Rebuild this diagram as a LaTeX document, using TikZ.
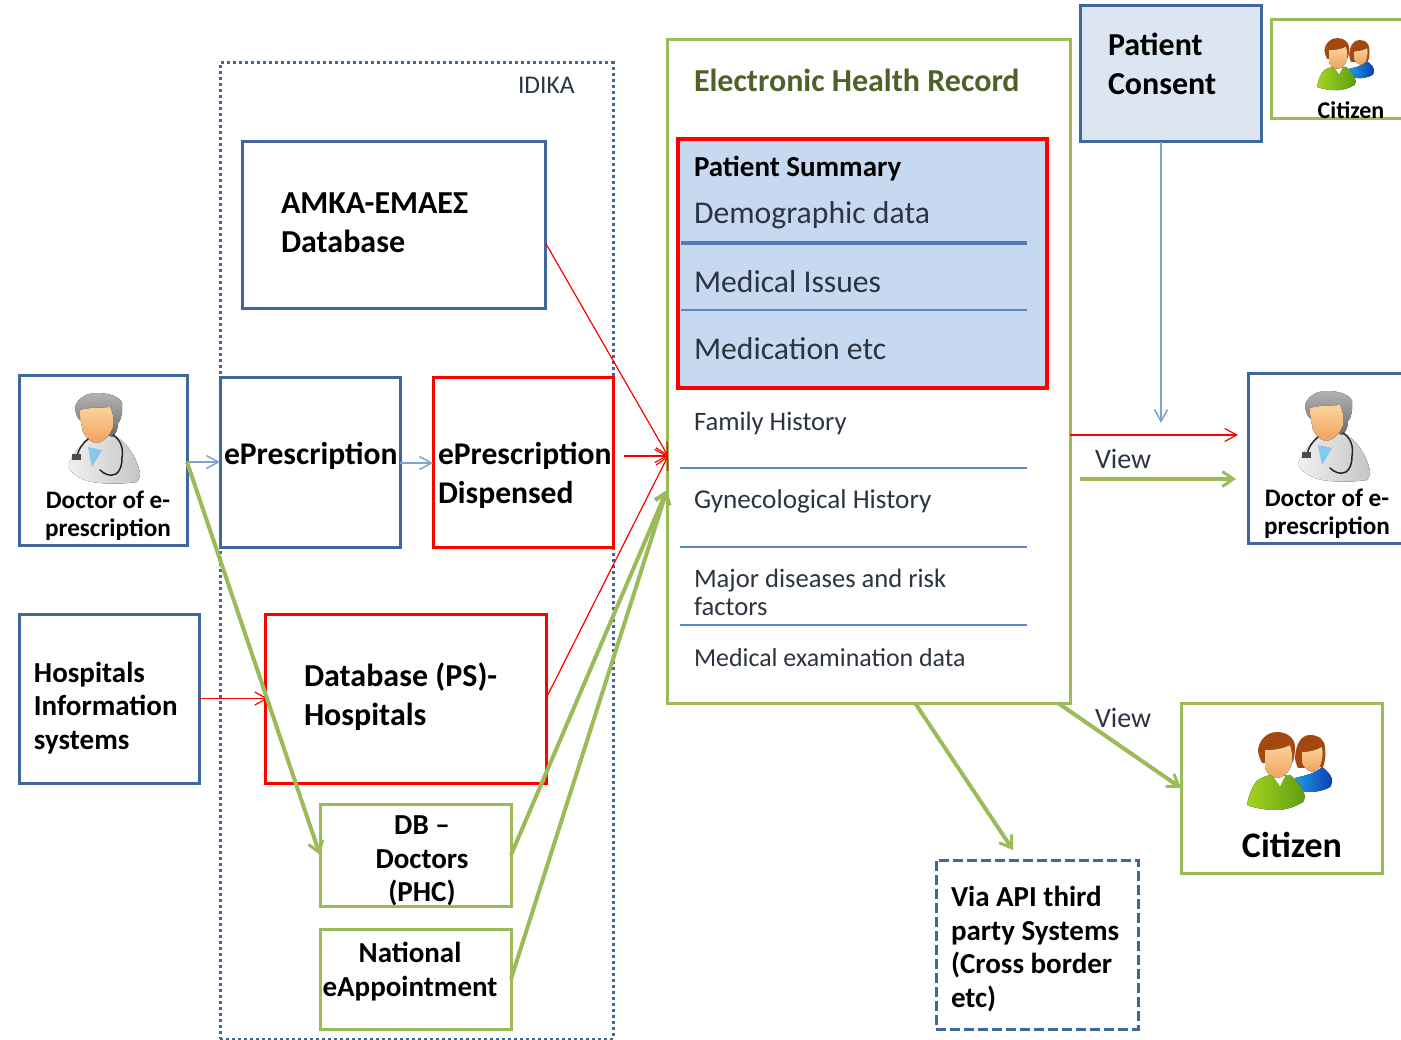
\documentclass[tikz,border=0pt]{standalone}
\usepackage{fontspec}
\setmainfont{Carlito}
\usetikzlibrary{arrows.meta,calc}
\definecolor{bluedk}{HTML}{41689A}
\definecolor{bluemd}{HTML}{5B8BC6}
\definecolor{bluelt}{HTML}{7FA3D1}
\definecolor{grn}{HTML}{9BBB59}
\definecolor{redc}{HTML}{FF0000}
\definecolor{olive}{HTML}{4F6128}
\definecolor{bodyc}{HTML}{2B3440}
\definecolor{fillc}{HTML}{DCE6F2}
\definecolor{fillb}{HTML}{C6D9F1}
\definecolor{hairc}{HTML}{A5480F}
\definecolor{facel}{HTML}{FBD29C}
\definecolor{faced}{HTML}{EFA45C}
\definecolor{grnl}{HTML}{A4D420}
\definecolor{grnd}{HTML}{5F9E12}
\definecolor{blul}{HTML}{1F9BE8}
\definecolor{blud}{HTML}{0A3CB0}
\tikzset{
 box/.style={rectangle,inner sep=0pt,outer sep=0pt,line width=3pt},
 bluebox/.style={box,draw=bluedk},
 redbox/.style={box,draw=redc},
 grnbox/.style={box,draw=grn},
 lbl/.style={inner sep=0pt,outer sep=0pt,anchor=west,align=left},
 ctr/.style={inner sep=0pt,outer sep=0pt,align=center},
 blab/.style={font=\fontsize{32}{39}\selectfont\bfseries},
 plab/.style={font=\fontsize{31.6}{39}\selectfont\bfseries},
 mlab/.style={font=\fontsize{29}{33.5}\selectfont\bfseries},
 dlab/.style={font=\fontsize{25.2}{28}\selectfont\bfseries},
 big/.style={font=\fontsize{31.7}{39}\selectfont,text=bodyc},
 small/.style={font=\fontsize{26.6}{28}\selectfont,text=bodyc},
 viewlab/.style={font=\fontsize{28}{30}\selectfont,text=bodyc},
 rowline/.style={draw=bluemd,line width=1.5pt},
 thinred/.style={draw=redc,line width=1.2pt,-{Straight Barb[length=12pt,width=13pt,line width=1.2pt]}},
 thinblue/.style={draw=bluelt,line width=1.5pt,-{Straight Barb[length=12pt,width=13pt,line width=1.5pt]}},
 grnarrow/.style={draw=grn,line width=4pt,-{Straight Barb[length=11pt,width=15pt,line width=3pt]}},
 doctoricon/.pic={
  \fill[left color=gray!12,right color=gray!45] (0,75) .. controls (1,68) and (10,54) .. (20,48) -- (45,43) .. controls (56,48) and (68,62) .. (72,81) .. controls (72,86) and (70,89) .. (69,90) .. controls (55,92) and (42,92) .. (32,91) .. controls (20,90) and (8,87) .. (0,75) -- cycle;
  \fill[blul!55] (20,55) -- (34,58) -- (24,75) -- cycle;
  \fill[top color=gray!60,bottom color=gray!85!black] (7,15) .. controls (10,6) and (18,1) .. (29,1) .. controls (42,1) and (52,5) .. (54,11) .. controls (55,22) and (52,30) .. (50,31) .. controls (50,38) and (47,43) .. (44,45) -- (14,30) -- (10,26) .. controls (8,22) and (7,18) .. (7,15) -- cycle;
  \fill[top color=facel,bottom color=faced] (12,18) .. controls (22,15) and (34,16) .. (42,15) .. controls (46,24) and (46,30) .. (45,35) .. controls (42,44) and (34,51) .. (27,51) .. controls (20,48) and (14,42) .. (14,35) .. controls (12,28) and (12,22) .. (12,18) -- cycle;
  \draw[gray!30!black,line width=1.5pt,line cap=round] (20,47) .. controls (14,52) and (10,58) .. (9,65);
  \draw[gray!30!black,line width=1.5pt,line cap=round] (45,43) .. controls (52,47) and (56,56) .. (54,66) .. controls (54,74) and (52,79) .. (48,82) .. controls (42,85) and (36,82) .. (32,78);
  \fill[gray!60!black] (4,62) rectangle (13,68);
 },
 citizenicon/.pic={
  \fill[left color=blul,right color=blud] (48,46) .. controls (56,44) and (68,42) .. (75,35) .. controls (82,40) and (86,46) .. (85,50) .. controls (84,53) and (84,54) .. (83,55) .. controls (76,59) and (68,60) .. (63,60) .. controls (56,60) and (52,58) .. (48,56) -- cycle;
  \fill[hairc] (48,25) .. controls (49,12) and (54,3) .. (63,3) .. controls (72,3) and (78,8) .. (78,16) .. controls (79,24) and (78,30) .. (76,35) -- (51,36) .. controls (49,32) and (48,28) .. (48,25) -- cycle;
  \fill[top color=facel,bottom color=faced] (55,20) .. controls (62,20) and (70,18) .. (75,15) .. controls (76,20) and (76,24) .. (75,28) .. controls (74,34) and (70,40) .. (65,40) .. controls (60,38) and (55,34) .. (55,30) -- cycle;
  \fill[left color=grnl,right color=grnd] (0,73) .. controls (2,62) and (6,52) .. (11,48) .. controls (16,45) and (20,44) .. (23,43) -- (43,43) .. controls (50,48) and (56,56) .. (58,65) -- (56,70) .. controls (48,75) and (38,78) .. (30,78) .. controls (18,78) and (8,76) .. (0,73) -- cycle;
  \fill[white] (26,44) -- (38,44) -- (33,54) -- cycle;
  \fill[hairc] (11,18) .. controls (12,8) and (20,0) .. (30,0) .. controls (40,0) and (48,6) .. (48,15) .. controls (48,22) and (47,28) .. (45,31) -- (15,31) .. controls (13,27) and (11,22) .. (11,18) -- cycle;
  \fill[top color=facel,bottom color=faced] (18,18) .. controls (26,18) and (36,17) .. (43,13) .. controls (45,18) and (46,26) .. (45,31) .. controls (43,40) and (36,46) .. (30,46) .. controls (24,45) and (18,40) .. (18,35) -- cycle;
 }
}
\begin{document}
\begin{tikzpicture}[x=1pt,y=-1pt]
\useasboundingbox (0,0) rectangle (1401,1040);
\clip (0,0) rectangle (1401,1040);
% containers
\node[box,draw=bluedk,dash pattern=on 3pt off 3pt,minimum width=393pt,minimum height=976pt] (idika) at (416.5,551) {};
\node[grnbox,minimum width=403pt,minimum height=663pt] (ehr) at (868.5,371.5) {};
\node[box,fill=fillb,draw=redc,line width=3.5pt,minimum width=369pt,minimum height=249pt] (ps) at (862.5,263.5) {};
% boxes
\node[bluebox,minimum width=303pt,minimum height=167pt] (amka) at (394,225.5) {};
\node[bluebox,minimum width=168pt,minimum height=169pt] (doc) at (103,460.5) {};
\node[bluebox,minimum width=180pt,minimum height=169pt] (epre) at (310,462.5) {};
\node[redbox,minimum width=180pt,minimum height=169pt] (disp) at (523,462.5) {};
\node[bluebox,minimum width=180pt,minimum height=169pt] (hosp) at (109,698.5) {};
\node[redbox,minimum width=281pt,minimum height=169pt] (dbps) at (405.5,698.5) {};
\node[grnbox,minimum width=191pt,minimum height=102pt] (dbdoc) at (415.5,855) {};
\node[grnbox,minimum width=191pt,minimum height=100pt] (natl) at (415.5,979) {};
\node[bluebox,fill=fillc,minimum width=181pt,minimum height=136pt] (cons) at (1170.5,74) {};
\node[grnbox,minimum width=134pt,minimum height=99pt] (cits) at (1338,69.5) {};
\node[bluebox,minimum width=157pt,minimum height=169pt] (docr) at (1326.5,458.5) {};
\node[grnbox,minimum width=201pt,minimum height=170pt] (citb) at (1281.5,788) {};
\node[box,draw=bluedk,dash pattern=on 10pt off 4pt,minimum width=202pt,minimum height=169pt] (api) at (1037,944.5) {};
% row lines
\draw[draw=bluemd!90!black,line width=4pt] (681,243) -- (1027,243);
\draw[rowline] (681,310) -- (1027,310);
\draw[rowline] (680,468) -- (1027,468);
\draw[rowline] (680,547) -- (1027,547);
\draw[rowline] (680,625) -- (1027,625);
% icons
\pic at (68,392) {doctoricon};
\pic at (1298,390) {doctoricon};
\pic at (1247,732) {citizenicon};
\pic[scale=.67] at (1317,38) {citizenicon};
% text
\node[lbl,font=\fontsize{25.5}{28}\selectfont,text=bodyc] (tidika) at (518,85) {IDIKA};
\node[lbl,blab] (tamka) at (281,223) {ΑΜΚΑ-ΕΜΑΕΣ\\Database};
\node[lbl,plab] (tepre) at (224,456) {ePrescription};
\node[lbl,plab] (tdisp) at (438,475) {ePrescription\\Dispensed};
\node[ctr,dlab] (tdoc) at (108,516) {Doctor of e-\\prescription};
\node[lbl,mlab] (thosp) at (34,708) {Hospitals\\Information\\systems};
\node[lbl,blab] (tdbps) at (304,697) {Database (PS)-\\Hospitals};
\node[ctr,mlab] (tdbdoc) at (422,861) {DB –\\Doctors\\(PHC)};
\node[ctr,mlab] (tnatl) at (410,971.5) {National\\eAppointment};
\node[lbl,font=\fontsize{32}{39}\selectfont\bfseries,text=olive] (tehr) at (694,80) {Electronic Health Record};
\node[lbl,font=\fontsize{29}{30}\selectfont\bfseries] (tsum) at (694,169) {Patient Summary};
\node[lbl,big] (tdem) at (694,215) {Demographic data};
\node[lbl,big] (tmed) at (694,282) {Medical Issues};
\node[lbl,big] (tmdc) at (694,349) {Medication etc};
\node[lbl,small] (tfam) at (694,423) {Family History};
\node[lbl,font=\fontsize{27.2}{28}\selectfont,text=bodyc] (tgyn) at (694,501) {Gynecological History};
\node[lbl,small] (tmaj) at (694,592) {Major diseases and risk\\factors};
\node[lbl,font=\fontsize{25.9}{28}\selectfont,text=bodyc] (texa) at (694,658) {Medical examination data};
\node[lbl,blab] (tcons) at (1108,64) {Patient\\Consent};
\node[ctr,font=\fontsize{24}{28}\selectfont\bfseries] (tcits) at (1351,110) {Citizen};
\node[ctr,dlab] (tdocr) at (1327,514) {Doctor of e-\\prescription};
\node[ctr,font=\fontsize{36}{40}\selectfont\bfseries] (tcitb) at (1292,845) {Citizen};
\node[lbl,mlab] (tapi) at (951,949) {Via API third\\party Systems\\(Cross border\\etc)};
\node[lbl,viewlab] (tv1) at (1095,459) {View};
\node[lbl,viewlab] (tv2) at (1095,718) {View};
% connectors
\coordinate (inR) at ([xshift=1pt,yshift=-84.5pt]ehr.west);
\coordinate (inG) at ([yshift=-118.5pt]ehr.west);
\draw[thinblue] ([yshift=-1.5pt]doc.east) -- ([yshift=.5pt]epre.west);
\draw[thinblue] ([yshift=-.5pt]epre.east) -- ([yshift=-.5pt]disp.west);
\draw[thinred] ([yshift=-17.5pt]amka.east) -- (inR);
\draw[thinred] ([xshift=11pt,yshift=6.5pt]disp.east) -- (inR);
\draw[thinred] (dbps.east) -- (inR);
\draw[thinred] (hosp.east) -- ([xshift=3pt]dbps.west);
\draw[grnarrow] ([yshift=-1.5pt]doc.east) -- (dbdoc.west);
\draw[grnarrow] (dbdoc.east) -- (inG);
\draw[grnarrow] (natl.east) -- (inG);
\draw[thinblue] ([xshift=-9.5pt]cons.south) -- ([xshift=-9.5pt,yshift=-281pt]cons.south);
\draw[thinred] ([yshift=-63.5pt]ehr.east) -- ([xshift=-10pt,yshift=23.5pt]docr.west);
\draw[grnarrow] ([xshift=10pt,yshift=-107.5pt]ehr.east) -- ([xshift=-12pt,yshift=-20.5pt]docr.west);
\draw[grnarrow] ([xshift=46.5pt]ehr.south) -- ([xshift=-24pt,yshift=10pt]api.north);
\draw[grnarrow] ([xshift=189.5pt]ehr.south) -- (citb.west);
\end{tikzpicture}
\end{document}
